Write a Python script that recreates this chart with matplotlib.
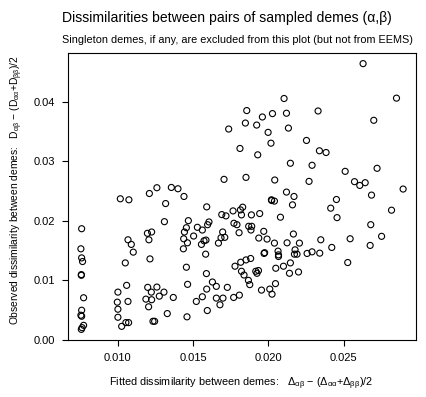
import numpy as np
import matplotlib
matplotlib.use("Agg")
import matplotlib.pyplot as plt

plt.rcParams["font.family"] = ["Liberation Sans", "DejaVu Sans"]
plt.rcParams["mathtext.fontset"] = "custom"
plt.rcParams["mathtext.rm"] = "Liberation Sans"
plt.rcParams["mathtext.it"] = "Liberation Sans"
plt.rcParams["mathtext.default"] = "regular"

# fitted (x) and observed (y) between-deme dissimilarities
fitted = [
    0.02104, 0.01856, 0.01960, 0.02027, 0.02120, 0.01847, 0.01922, 0.01736, 0.02133, 0.01998,
    0.02017, 0.02253, 0.01811, 0.01929, 0.02146, 0.01705, 0.01851, 0.02042, 0.02270, 0.01439,
    0.02120, 0.02170, 0.02020, 0.02629, 0.02851, 0.02330, 0.02700, 0.02339, 0.02383, 0.02290,
    0.02722, 0.02510, 0.02572, 0.02607, 0.02643, 0.02895, 0.02685, 0.02452, 0.01259, 0.01209,
    0.01355, 0.01399, 0.01016, 0.01073, 0.01317, 0.01468, 0.01309, 0.00759, 0.01196, 0.01224,
    0.01206, 0.01442, 0.01455, 0.01437, 0.01462, 0.01067, 0.01089, 0.01102, 0.00754, 0.01435,
    0.00759, 0.00765, 0.01049, 0.01213, 0.01455, 0.00757, 0.00757, 0.01058, 0.01198, 0.01259,
    0.01463, 0.01000, 0.01222, 0.01306, 0.00772, 0.01275, 0.01368, 0.01186, 0.01224, 0.00996,
    0.01067, 0.01204, 0.01000, 0.00759, 0.00754, 0.00759, 0.01328, 0.01000, 0.01459, 0.00772,
    0.01025, 0.01053, 0.01071, 0.01233, 0.01244, 0.00757, 0.00762, 0.01590, 0.02022, 0.02040,
    0.02160, 0.01503, 0.01528, 0.01561, 0.01596, 0.01605, 0.01572, 0.01585, 0.01555, 0.01583,
    0.01588, 0.01628, 0.01654, 0.01590, 0.01561, 0.01521, 0.01594, 0.01654, 0.01698, 0.01678,
    0.01727, 0.01769, 0.01807, 0.01690, 0.01718, 0.01765, 0.01814, 0.01829, 0.01821, 0.01887,
    0.01942, 0.02080, 0.01771, 0.01791, 0.01869, 0.01889, 0.01884, 0.01805, 0.01696, 0.01685,
    0.01710, 0.01668, 0.01936, 0.01969, 0.01991, 0.02040, 0.02166, 0.02206, 0.02124, 0.01971,
    0.01975, 0.02064, 0.02067, 0.02067, 0.02177, 0.02173, 0.02190, 0.02257, 0.01882, 0.01851,
    0.01816, 0.01778, 0.01916, 0.01934, 0.01924, 0.01821, 0.01838, 0.01867, 0.01876, 0.02049,
    0.02100, 0.02146, 0.02140, 0.02200, 0.02047, 0.01954, 0.02009, 0.02024, 0.02414, 0.02456,
    0.02818, 0.02680, 0.02752, 0.02543, 0.02348, 0.02290, 0.02341, 0.02421, 0.02676, 0.02527,
]
observed = [
    0.04060, 0.03857, 0.03749, 0.03806, 0.03812, 0.03647, 0.03613, 0.03546, 0.03562, 0.03490,
    0.03308, 0.03354, 0.03219, 0.03112, 0.02970, 0.02699, 0.02732, 0.02688, 0.02665, 0.02411,
    0.02485, 0.02411, 0.02355, 0.04647, 0.04066, 0.03850, 0.03693, 0.03180, 0.03151, 0.02936,
    0.02885, 0.02834, 0.02660, 0.02597, 0.02643, 0.02536, 0.02434, 0.02360, 0.02558, 0.02461,
    0.02563, 0.02541, 0.02372, 0.02355, 0.02292, 0.02004, 0.01987, 0.01868, 0.01791, 0.01813,
    0.01682, 0.01813, 0.01885, 0.01699, 0.01631, 0.01682, 0.01604, 0.01474, 0.01530, 0.01530,
    0.01377, 0.01316, 0.01293, 0.01360, 0.01220, 0.01096, 0.01084, 0.00915, 0.00881, 0.00886,
    0.00932, 0.00801, 0.00801, 0.00801, 0.00706, 0.00733, 0.00711, 0.00683, 0.00673, 0.00632,
    0.00644, 0.00554, 0.00513, 0.00496, 0.00412, 0.00395, 0.00440, 0.00378, 0.00385, 0.00242,
    0.00225, 0.00288, 0.00288, 0.00310, 0.00310, 0.00174, 0.00203, 0.02236, 0.02343, 0.02333,
    0.02270, 0.01745, 0.01892, 0.01846, 0.01936, 0.01982, 0.01665, 0.01677, 0.01604, 0.01440,
    0.01113, 0.00971, 0.00898, 0.00852, 0.00723, 0.00644, 0.00491, 0.00700, 0.00700, 0.00588,
    0.00881, 0.00711, 0.00750, 0.02106, 0.02084, 0.02168, 0.02185, 0.02231, 0.02101, 0.02101,
    0.02123, 0.02062, 0.01960, 0.01936, 0.01909, 0.01909, 0.01846, 0.01801, 0.01813, 0.01716,
    0.01723, 0.01626, 0.01711, 0.01824, 0.01694, 0.01626, 0.01779, 0.01626, 0.01631, 0.01452,
    0.01465, 0.01491, 0.01428, 0.01401, 0.01513, 0.01440, 0.01440, 0.01452, 0.01367, 0.01343,
    0.01304, 0.01237, 0.01152, 0.01164, 0.01118, 0.01152, 0.01089, 0.00999, 0.00927, 0.01203,
    0.01237, 0.01293, 0.01118, 0.01140, 0.00944, 0.00835, 0.00852, 0.00767, 0.02214, 0.02055,
    0.02180, 0.01936, 0.01740, 0.01699, 0.01682, 0.01479, 0.01457, 0.01553, 0.01587, 0.01299,
]
x_ticks = [0.010, 0.015, 0.020, 0.025]
x_ticklabels = ["0.010", "0.015", "0.020", "0.025"]
y_ticks = [0.00, 0.01, 0.02, 0.03, 0.04]
y_ticklabels = ["0.00", "0.01", "0.02", "0.03", "0.04"]

fig = plt.figure(figsize=(4.26, 3.97), dpi=100)
ax = fig.add_axes([68 / 426, 1 - 340 / 397, 348 / 426, 287 / 397])

ax.scatter(fitted, observed, s=19, facecolors="none", edgecolors="black", linewidths=0.8)

# R-style 4% padding around the data range
xr = max(fitted) - min(fitted)
yr = max(observed) - min(observed)
ax.set_xlim(min(fitted) - 0.04 * xr, max(fitted) + 0.04 * xr)
ax.set_ylim(min(observed) - 0.04 * yr, max(observed) + 0.04 * yr)

ax.set_xticks(x_ticks)
ax.set_xticklabels(x_ticklabels)
ax.set_yticks(y_ticks)
ax.set_yticklabels(y_ticklabels)
ax.tick_params(direction="out", length=4.5, width=0.8, labelsize=8, pad=5, colors="black")
for sp in ax.spines.values():
    sp.set_linewidth(0.8)

fig.text(0.533, 1 - 18 / 397, "Dissimilarities between pairs of sampled demes (\u03b1,\u03b2)",
         ha="center", va="center", fontsize=10.1)
fig.text(0.557, 1 - 40 / 397, "Singleton demes, if any, are excluded from this plot (but not from EEMS)",
         ha="center", va="center", fontsize=7.85)
fig.text(241 / 426, 1 - 384 / 397,
         r"Fitted dissimilarity between demes:   $\Delta_{\alpha\beta}$ " + "\u2212"
         + r" ($\Delta_{\alpha\alpha}$+$\Delta_{\beta\beta}$)/2",
         ha="center", va="center", fontsize=7.8)
fig.text(17 / 426, 1 - 190 / 397,
         r"Observed dissimilarity between demes:   $D_{\alpha\beta}$ " + "\u2212"
         + r" ($D_{\alpha\alpha}$+$D_{\beta\beta}$)/2",
         ha="center", va="center", rotation=90, fontsize=7.4)

fig.savefig("out.png", dpi=100)
